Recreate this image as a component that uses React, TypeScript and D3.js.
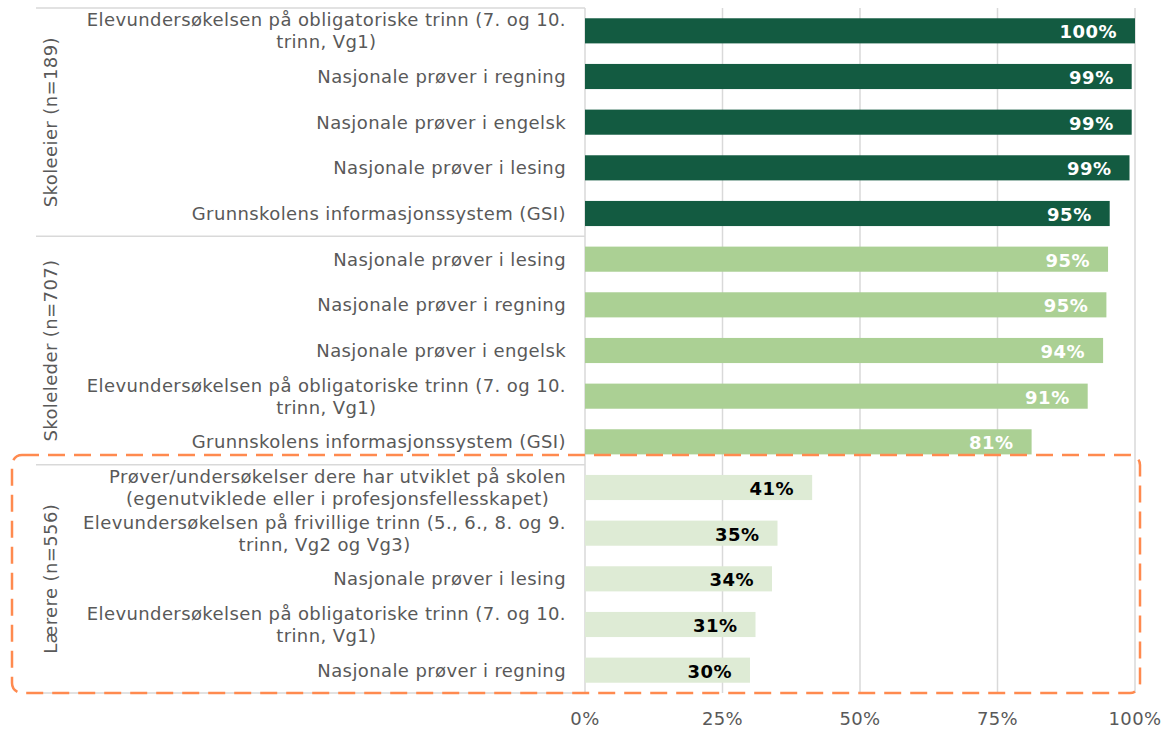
import React from "react";
import * as d3 from "d3";

const groupNames = ["Skoleeier (n=189)", "Skoleleder (n=707)", "Lærere (n=556)"];
const groupSizes = [5, 5, 5];
const groupColors = ["#135B41", "#ABD094", "#DEEBD5"];
const labelColors = ["#FFFFFF", "#FFFFFF", "#000000"];

const categories = [
  "Elevundersøkelsen på obligatoriske trinn (7. og 10.\ntrinn, Vg1)",
  "Nasjonale prøver i regning",
  "Nasjonale prøver i engelsk",
  "Nasjonale prøver i lesing",
  "Grunnskolens informasjonssystem (GSI)",
  "Nasjonale prøver i lesing",
  "Nasjonale prøver i regning",
  "Nasjonale prøver i engelsk",
  "Elevundersøkelsen på obligatoriske trinn (7. og 10.\ntrinn, Vg1)",
  "Grunnskolens informasjonssystem (GSI)",
  "Prøver/undersøkelser dere har utviklet på skolen\n(egenutviklede eller i profesjonsfellesskapet)",
  "Elevundersøkelsen på frivillige trinn (5., 6., 8. og 9.\ntrinn, Vg2 og Vg3)",
  "Nasjonale prøver i lesing",
  "Elevundersøkelsen på obligatoriske trinn (7. og 10.\ntrinn, Vg1)",
  "Nasjonale prøver i regning",
];

const values = [1.0, 0.994, 0.994, 0.99, 0.954, 0.951, 0.948, 0.942, 0.914, 0.812, 0.413, 0.35, 0.34, 0.31, 0.30];

const xTicks = [0, 0.25, 0.5, 0.75, 1];

const W = 1163;
const H = 730;
const FONT = "DejaVu Sans, Verdana, sans-serif";
const FS = 18;
const LS = 0.4;

function measure(text: string, weight = "normal"): number {
  const c = document.createElement("canvas");
  const ctx = c.getContext("2d");
  if (!ctx) return text.length * FS * 0.55;
  ctx.font = `${weight} ${FS}px DejaVu Sans`;
  return ctx.measureText(text).width + text.length * LS;
}

export default function App() {
  const top = 8;
  const bottom = 693;
  const x0 = 585;
  const x1 = 1135;
  const labelRight = 566;
  const leftLine = 36;

  const idx = categories.map((_, i) => i);
  const y = d3.scaleBand<number>().domain(idx).range([top, bottom]).paddingInner(0.45).paddingOuter(0.225);
  const x = d3.scaleLinear().domain([0, 1]).range([x0, x1]);
  const step = y.step();

  const groupOf: number[] = [];
  groupSizes.forEach((s, g) => {
    for (let k = 0; k < s; k++) groupOf.push(g);
  });
  const groupStarts: number[] = [];
  let acc = 0;
  groupSizes.forEach((s) => {
    groupStarts.push(acc);
    acc += s;
  });

  const sepYs = [0, ...groupSizes.map((_, g) => groupStarts[g] + groupSizes[g])].map((k) => top + k * step);
  const grid = "#D9D9D9";
  const textCol = "#595959";

  return (
    <svg width={W} height={H} style={{ position: "absolute", left: 0, top: 0, background: "#fff" }} fontFamily={FONT}>
      {xTicks.map((t) => (
        <line key={"g" + t} x1={x(t)} x2={x(t)} y1={top} y2={bottom} stroke={grid} strokeWidth={1.5} />
      ))}
      {sepYs.map((sy, i) => (
        <line key={"s" + i} x1={leftLine} x2={x0} y1={sy} y2={sy} stroke={grid} strokeWidth={1.5} />
      ))}
      {values.map((v, i) => (
        <rect
          key={"b" + i}
          x={x(0)}
          y={y(i)}
          width={x(v) - x(0)}
          height={y.bandwidth()}
          fill={groupColors[groupOf[i]]}
        />
      ))}
      {values.map((v, i) => (
        <text
          key={"v" + i}
          x={x(v) - 18}
          y={(y(i) as number) + y.bandwidth() / 2 + 1}
          textAnchor="end"
          dominantBaseline="central"
          fontWeight="bold"
          fontSize={FS}
          letterSpacing={0.5}
          fill={labelColors[groupOf[i]]}
        >
          {d3.format(".0%")(v)}
        </text>
      ))}
      {categories.map((c, i) => {
        const lines = c.split("\n");
        const widths = lines.map((l) => measure(l));
        const maxW = Math.max(...widths);
        const cy = (y(i) as number) + y.bandwidth() / 2;
        const lh = 22;
        const center = labelRight - maxW / 2;
        return (
          <g key={"c" + i}>
            {lines.map((l, j) => (
              <text
                key={j}
                x={lines.length > 1 ? center : labelRight}
                y={cy + (j - (lines.length - 1) / 2) * lh}
                textAnchor={lines.length > 1 ? "middle" : "end"}
                dominantBaseline="central"
                fontSize={FS}
                letterSpacing={LS}
                fill={textCol}
              >
                {l}
              </text>
            ))}
          </g>
        );
      })}
      {groupNames.map((g, gi) => {
        const cy = top + (groupStarts[gi] + groupSizes[gi] / 2) * step;
        return (
          <text
            key={"gn" + gi}
            transform={`translate(50,${cy}) rotate(-90)`}
            textAnchor="middle"
            dominantBaseline="central"
            fontSize={FS}
            letterSpacing={LS}
            fill={textCol}
          >
            {g}
          </text>
        );
      })}
      {xTicks.map((t) => (
        <text key={"t" + t} x={x(t)} y={718} textAnchor="middle" dominantBaseline="central" fontSize={FS} letterSpacing={LS} fill={textCol}>
          {d3.format(".0%")(t)}
        </text>
      ))}
      <rect
        x={12}
        y={455}
        width={1128}
        height={238}
        rx={10}
        ry={10}
        fill="none"
        stroke="#FF8A4F"
        strokeWidth={2.5}
        strokeDasharray="17 9"
      />
    </svg>
  );
}
